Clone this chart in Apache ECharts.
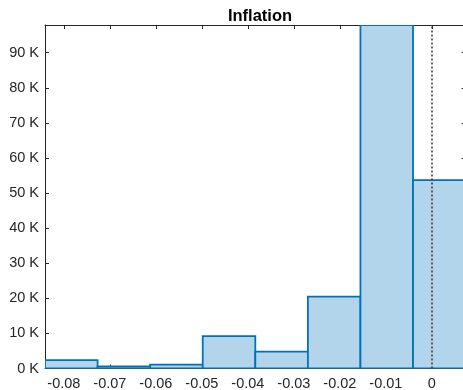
<!DOCTYPE html>
<html>
<head>
<meta charset="utf-8">
<script src="https://cdn.jsdelivr.net/npm/echarts@6/dist/echarts.min.js"></script>
<style>
  html, body { margin: 0; padding: 0; background: #fff; }
  #chart { width: 463px; height: 390px; }
</style>
</head>
<body>
<div id="chart"></div>
<script>
// Histogram of inflation draws: bin edges and counts per bin
const binEdges = [-0.0841, -0.07267, -0.06124, -0.04981, -0.03838, -0.02695, -0.01552, -0.00409, 0.00734];
const counts = [2400, 600, 1100, 9200, 4800, 20500, 97900, 53700];
const xTickValues = [-0.08, -0.07, -0.06, -0.05, -0.04, -0.03, -0.02, -0.01, 0];
const yTickValues = [0, 10000, 20000, 30000, 40000, 50000, 60000, 70000, 80000, 90000];
const titleText = 'Inflation';
const refLineX = 0;

const axisColor = '#262626';
const fontFamily = 'Liberation Sans, Arial, Helvetica, sans-serif';

const bins = counts.map((c, i) => [binEdges[i], binEdges[i + 1], c]);
const xMin = binEdges[0];
const xMax = binEdges[binEdges.length - 1];
const yMax = Math.max(...counts);

const chart = echarts.init(document.getElementById('chart'), null, { renderer: 'canvas' });

const xFormatter = v => (v === 0 ? '0' : v.toFixed(2));
const yFormatter = v => Math.round(v / 1000) + ' K';

chart.setOption({
  animation: false,
  backgroundColor: '#ffffff',
  title: {
    text: titleText,
    left: 255,
    textAlign: 'center',
    top: 3,
    textStyle: { fontFamily, fontSize: 16.5, fontWeight: 'bold', color: '#000' }
  },
  // the plot box runs a little past the right edge of the page
  grid: { left: 45, top: 25, width: 420.6, height: 343.5, outerBoundsMode: 'none', containLabel: false },
  xAxis: [
    {
      type: 'value', position: 'bottom', min: xMin, max: xMax,
      splitLine: { show: false },
      axisLine: { show: true, onZero: false, lineStyle: { color: axisColor, width: 1 } },
      axisTick: { show: true, inside: true, length: 4, customValues: xTickValues, lineStyle: { color: axisColor } },
      axisLabel: { customValues: xTickValues, formatter: xFormatter, margin: 8, color: axisColor, fontFamily, fontSize: 14.5 }
    },
    {
      type: 'value', position: 'top', min: xMin, max: xMax,
      splitLine: { show: false },
      axisLine: { show: true, onZero: false, lineStyle: { color: axisColor, width: 1 } },
      axisTick: { show: true, inside: true, length: 4, customValues: xTickValues, lineStyle: { color: axisColor } },
      axisLabel: { show: false }
    }
  ],
  yAxis: [
    {
      type: 'value', position: 'left', min: 0, max: yMax,
      splitLine: { show: false },
      axisLine: { show: true, onZero: false, lineStyle: { color: axisColor, width: 1 } },
      axisTick: { show: true, inside: true, length: 4, customValues: yTickValues, lineStyle: { color: axisColor } },
      axisLabel: { customValues: yTickValues, formatter: yFormatter, margin: 6, color: axisColor, fontFamily, fontSize: 14.5 }
    },
    {
      type: 'value', position: 'right', min: 0, max: yMax,
      splitLine: { show: false },
      axisLine: { show: true, onZero: false, lineStyle: { color: axisColor, width: 1 } },
      axisTick: { show: true, inside: true, length: 4, customValues: yTickValues, lineStyle: { color: axisColor } },
      axisLabel: { show: false }
    }
  ],
  series: [
    {
      type: 'custom',
      xAxisIndex: 0,
      yAxisIndex: 0,
      data: bins,
      clip: true,
      renderItem: (params, api) => {
        const p0 = api.coord([api.value(0), api.value(2)]);
        const p1 = api.coord([api.value(1), 0]);
        return {
          type: 'rect',
          shape: { x: p0[0], y: p0[1], width: p1[0] - p0[0], height: p1[1] - p0[1] },
          style: { fill: '#b3d5eb', stroke: '#0072bd', lineWidth: 1.8 }
        };
      },
      markLine: {
        silent: true,
        symbol: 'none',
        label: { show: false },
        lineStyle: { color: '#333333', type: [2, 2], width: 1.5 },
        data: [[{ coord: [refLineX, 0] }, { coord: [refLineX, yMax] }]]
      }
    }
  ]
});
</script>
</body>
</html>
